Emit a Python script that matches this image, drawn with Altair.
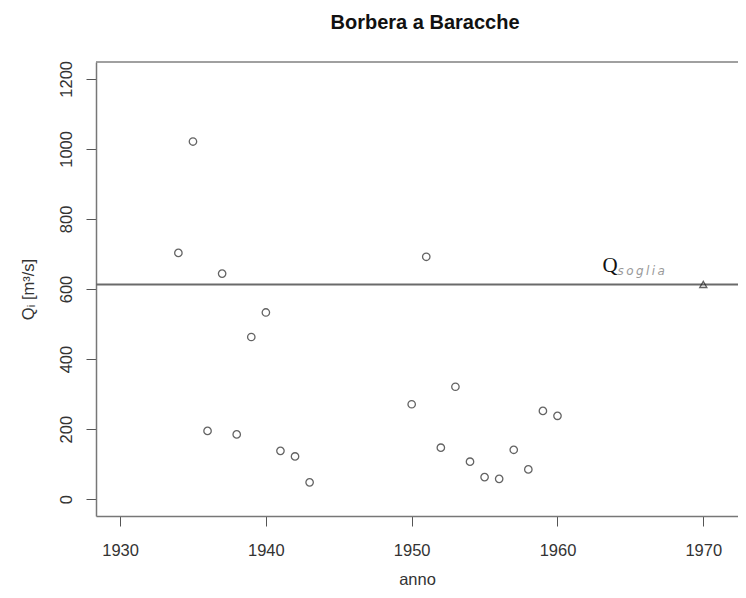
import altair as alt
import pandas as pd

# data
anni = [1934, 1935, 1936, 1937, 1938, 1939, 1940, 1941, 1942, 1943,
        1950, 1951, 1952, 1953, 1954, 1955, 1956, 1957, 1958, 1959, 1960]
portate = [703, 1021, 195, 644, 185, 463, 533, 138, 122, 48,
           271, 692, 147, 321, 107, 63, 58, 141, 85, 252, 238]
q_soglia = 613
anno_soglia = 1970
x_ticks = [1930, 1940, 1950, 1960, 1970]
y_ticks = [0, 200, 400, 600, 800, 1000, 1200]
x_dom = [1928.35, 1972.38]
y_dom = [-48, 1248]

FONT = "Liberation Sans"
TXT = "#333333"
W, H = 642, 454

df = pd.DataFrame({"anno": anni, "Q": portate})
df_s = pd.DataFrame({"anno": [anno_soglia], "Q": [q_soglia]})
df_lab = pd.DataFrame({"anno": [1963.09], "Q": [648]})
df_lab2 = pd.DataFrame({"anno": [1964.12], "Q": [640]})

xs = alt.Scale(domain=x_dom, nice=False, zero=False)
ys = alt.Scale(domain=y_dom, nice=False, zero=False)

xenc = alt.X("anno:Q", scale=xs, axis=alt.Axis(
    values=x_ticks, format="d", title="anno", grid=False,
    domainColor="#777777", domainWidth=1.5, tickColor="#555555", tickSize=10,
    labelFont=FONT, labelFontSize=16.5, labelColor=TXT, labelPadding=16,
    titleFont=FONT, titleFontSize=16.5, titleFontWeight="normal", titleColor=TXT,
    titlePadding=13))
yenc = alt.Y("Q:Q", scale=ys, axis=alt.Axis(
    values=y_ticks, format="d", title="Qᵢ [m³/s]", grid=False,
    domainColor="#777777", domainWidth=1.5, tickColor="#555555", tickSize=10,
    labelAngle=270, labelAlign="center", labelBaseline="bottom",
    labelFont=FONT, labelFontSize=16.5, labelColor=TXT, labelPadding=12,
    titleFont=FONT, titleFontSize=16.5, titleFontWeight="normal", titleColor=TXT,
    titlePadding=22))

pts = alt.Chart(df).mark_point(shape="circle", filled=False, size=55,
                               color="#222222", strokeWidth=1.3).encode(x=xenc, y=yenc)

hline = alt.Chart(df_s).mark_rule(color="#6a6a6a", strokeWidth=2).encode(
    y=alt.Y("Q:Q", scale=ys), x=alt.value(0), x2=alt.value(W))

topline = alt.Chart(df_s).mark_rule(color="#808080", strokeWidth=1.5).encode(
    y=alt.value(0), x=alt.value(0), x2=alt.value(W))

tri = alt.Chart(df_s).mark_point(shape="triangle-up", filled=False, size=50,
                                 color="#222222", strokeWidth=1.3).encode(
    x=alt.X("anno:Q", scale=xs), y=alt.Y("Q:Q", scale=ys))

lab_q = alt.Chart(df_lab).mark_text(text="Q", font="Liberation Serif", fontSize=21,
                                    align="left", baseline="alphabetic",
                                    color="#111111").encode(
    x=alt.X("anno:Q", scale=xs), y=alt.Y("Q:Q", scale=ys))
lab_s = alt.Chart(df_lab2).mark_text(text="s\u2009o\u2009g\u2009l\u2009i\u2009a",
                                     font="DejaVu Sans", fontSize=12,
                                     fontStyle="italic", align="left",
                                     baseline="alphabetic", color="#9a9a9a").encode(
    x=alt.X("anno:Q", scale=xs), y=alt.Y("Q:Q", scale=ys))

chart = alt.layer(hline, topline, pts, tri, lab_q, lab_s).properties(
    width=W, height=H,
    autosize=alt.AutoSizeParams(type="none"),
    padding={"left": 88, "top": 54, "right": 0, "bottom": 74},
    title=alt.TitleParams("Borbera a Baracche", font=FONT, fontSize=20,
                          fontWeight="bold", color="#111111", anchor="middle",
                          offset=27, dx=8),
    background="white",
).configure_view(stroke=None)

chart.save("out.html", embed_options={"renderer": "svg", "actions": False})
